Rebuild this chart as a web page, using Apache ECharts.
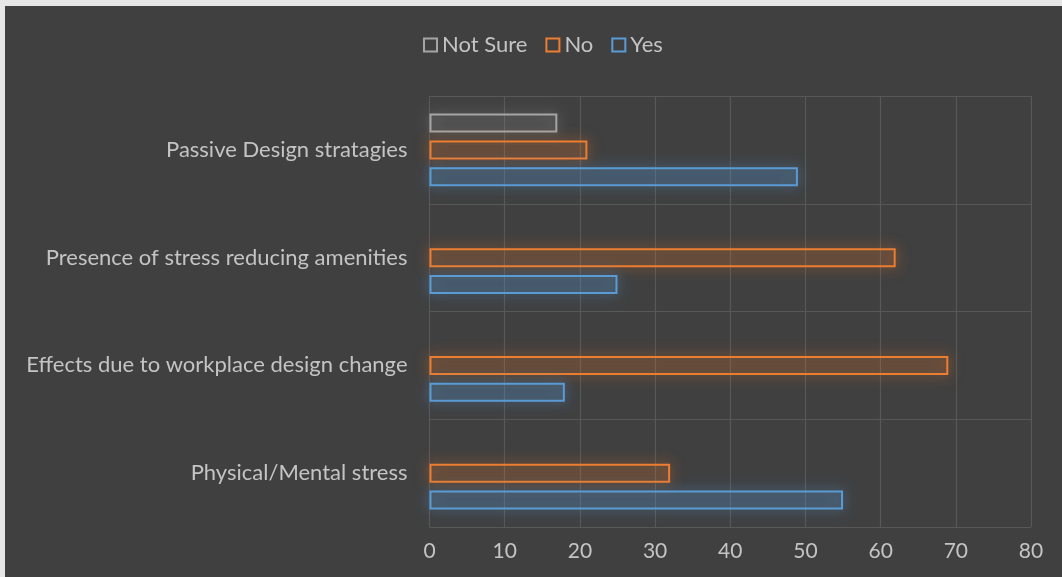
<!DOCTYPE html>
<html>
<head>
<meta charset="utf-8">
<script src="https://cdn.jsdelivr.net/npm/echarts@6/dist/echarts.min.js"></script>
<style>
  html, body { margin: 0; padding: 0; background: #e6e6e6; }
  #container { position: absolute; left: 5px; top: 6px; width: 1057px; height: 571px; }
</style>
</head>
<body>
<div id="container"></div>
<script>
// categories, bottom to top as drawn
var categories = [
  'Physical/Mental stress',
  'Effects due to workplace design change',
  'Presence of stress reducing amenities',
  'Passive Design stratagies'
]
var yesData = [55, 18, 25, 49]
var noData = [32, 69, 62, 21]
var notSureData = [null, null, null, 17]
var xTicks = [0, 80, 10] // min, max, interval

var chart = echarts.init(document.getElementById('container'))

function barSeries(name, data, line, fill, glow) {
  return {
    name: name,
    type: 'bar',
    data: data,
    barWidth: 19,
    barGap: '42%',
    itemStyle: {
      color: fill,
      borderColor: line,
      borderWidth: 2,
      shadowBlur: 14,
      shadowColor: glow
    }
  }
}

chart.setOption({
  backgroundColor: '#404040',
  textStyle: { fontFamily: 'Lato' },
  legend: {
    top: 23,
    left: 413,
    itemWidth: 13,
    itemHeight: 13,
    itemGap: 18,
    textStyle: { color: '#c4c4c4', fontSize: 22 },
    data: [
      { name: 'Not Sure', icon: 'rect', itemStyle: { color: 'transparent', borderColor: '#a5a5a5', borderWidth: 2, shadowBlur: 0 } },
      { name: 'No', icon: 'rect', itemStyle: { color: 'transparent', borderColor: '#ed7d31', borderWidth: 2, shadowBlur: 0 } },
      { name: 'Yes', icon: 'rect', itemStyle: { color: 'transparent', borderColor: '#5b9bd5', borderWidth: 2, shadowBlur: 0 } }
    ]
  },
  grid: { left: 424.5, right: 31, top: 90, bottom: 50 },
  xAxis: {
    type: 'value',
    min: xTicks[0],
    max: xTicks[1],
    interval: xTicks[2],
    axisLine: { show: false },
    axisTick: { show: false },
    axisLabel: { color: '#c4c4c4', fontSize: 21, margin: 14 },
    splitLine: { show: true, lineStyle: { color: '#585858', width: 1.2 } }
  },
  yAxis: {
    type: 'category',
    data: categories,
    axisLine: { show: false },
    axisTick: { show: false },
    axisLabel: { color: '#c4c4c4', fontSize: 22, margin: 22 },
    splitLine: { show: true, lineStyle: { color: '#585858', width: 1.2 } }
  },
  series: [
    barSeries('Not Sure', notSureData, '#a5a5a5', 'rgba(165,165,165,0.06)', 'rgba(165,165,165,0.8)'),
    barSeries('No', noData, '#ed7d31', 'rgba(237,125,49,0.08)', 'rgba(237,125,49,0.9)'),
    barSeries('Yes', yesData, '#5b9bd5', 'rgba(91,155,213,0.14)', 'rgba(91,155,213,0.9)')
  ]
})
</script>
</body>
</html>
